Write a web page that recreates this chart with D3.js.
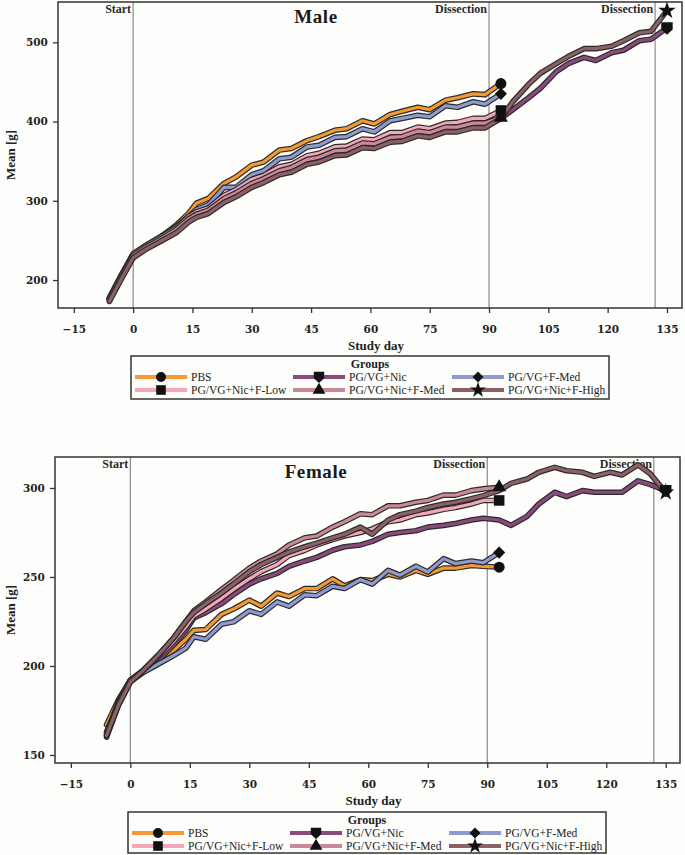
<!DOCTYPE html>
<html><head><meta charset="utf-8">
<script src="https://cdn.jsdelivr.net/npm/d3@7"></script>
<style>body{margin:0;background:#fdfdfb}svg{display:block}</style>
</head><body>
<svg id="c" width="685" height="855"></svg>
<script>
// ---------- data ----------
const groups = ["PBS","PG/VG+Nic","PG/VG+F-Med","PG/VG+Nic+F-Low","PG/VG+Nic+F-Med","PG/VG+Nic+F-High"];
const colors = ["#f59a32","#8a4a7c","#8f9bcf","#f4a7b9","#cb8898","#8b6067"];
const markers = ["circle","shield","diamond","square","triangle","star"];
const xTicks = [-15,0,15,30,45,60,75,90,105,120,135];
const refDays = [0,90,132];
const refLabels = ["Start","Dissection","Dissection"];
const days = [-6,-3,0,3,7,11,14,16,19,23,26,30,33,37,40,44,47,51,54,58,61,65,68,72,75,79,82,86,89,93];
const daysLate = [96,100,103,107,110,114,117,121,124,128,131,135];

// Male
const malePBS   = [177,205,228,242,254,270,284,297,303,322,330,345,349,364,366,376,381,389,391,401,397,409,413,418,415,427,430,435,434,448];
const maleNic   = [175,203,230,240,251,262,275,281,286,300,307,319,325,335,338,348,351,359,360,369,368,376,377,384,382,389,389,394,394,404];
const maleNicLate = [415,430,442,463,473,481,477,487,490,502,504,518];
const maleFMed  = [177,206,233,243,255,268,280,289,295,317,317,333,338,353,355,368,370,380,381,391,387,401,404,408,406,420,418,425,422,435];
const maleLow   = [178,206,233,243,254,266,280,286,291,307,314,327,332,343,346,357,360,368,369,378,377,386,386,393,391,398,399,404,404,414];
const maleNicMed= [176,204,231,241,252,264,277,283,288,303,310,322,328,338,342,352,355,363,364,373,372,380,381,388,386,393,393,398,398,405];
const maleHigh  = [173,201,228,238,249,260,273,279,284,298,305,317,323,333,336,346,349,357,358,367,366,374,375,382,380,387,387,392,392,404];
const maleHighLate = [425,447,461,473,482,492,492,495,502,512,514,540];

// Female
const femPBS    = [167,181,192,197,203,209,215,220,220.5,229,232,237,233.6,241,239,243.5,243.5,249,245,248.5,248,251.5,250,253.7,251.5,255,255,256.5,256,255.5];
const femNic    = [160,178,191,196,203,212,220,227,230,235,240,246,249,252,256,259,261,265,267,268,270,274,275,276,278,279,280,282,283,282];
const femNicLate= [279,284,291,297.6,295.2,298.5,297.6,297.6,297.6,304,302,298.5];
const femFMed   = [161,180,192,196,201,206,210,216.4,215,223.5,224.8,231,229,236,233.6,240,239.5,244.8,243.5,248.5,246,253.7,251,256,252.8,260.3,257.5,259,258,263.7];
const femLow    = [163,179,192,197,205,214,222,228,232,238,243,249,253,257,262,265,268,271,273,275,277,281,282,285,286,288,289,291,293,293];
const femNicMed = [162,179,192,197,206,216,225,231,236,243,248,255,259,263,268,272,273,278,281,285.5,285,290,290,292,293,296,296,298.5,299.5,300.4];
const femHigh   = [161,178,191,197,206,216,225,230,235,241,246,253,257,261,264,267,269,272,274,278,274,282,285,287,289,291,292,294,295.7,298.5];
const femHighLate = [302.6,305,308.8,311.6,309.7,308.8,306.5,308.8,307.3,313,308.2,297.6];

// ---------- drawing ----------
const svg = d3.select("#c");
svg.append("rect").attr("width",685).attr("height",855).attr("fill","#fdfdfb");

function pts(d1, v1, d2, v2){
  const a = d1.map((d,i)=>({x:d,y:v1[i]}));
  if (d2) d2.forEach((d,i)=>a.push({x:d,y:v2[i]}));
  return a;
}
function markerPath(type, s){
  if (type==="shield"){
    const k=s*0.52;
    return `M${-k},${-k}L${k},${-k}L${k},${k*0.25}L0,${k*1.15}L${-k},${k*0.25}Z`;
  }
  if (type==="diamond"){
    const k=s*0.55;
    return `M0,${-k}L${k},0L0,${k}L${-k},0Z`;
  }
  if (type==="square"){
    const k=s*0.48;
    return `M${-k},${-k}H${k}V${k}H${-k}Z`;
  }
  const map = {circle:[d3.symbolCircle,95],triangle:[d3.symbolTriangle,85],star:[d3.symbolStar,95]};
  const m = map[type];
  return d3.symbol().type(m[0]).size(m[1]*(s/11)*(s/11))();
}

const serif = "'Liberation Serif','DejaVu Serif',serif";

function panel(cfg){
  const x = d3.scaleLinear().domain(cfg.xDomain).range([cfg.left,cfg.right]);
  const y = d3.scaleLinear().domain(cfg.yDomain).range([cfg.bottom,cfg.top]);
  const g = svg.append("g");

  // reference lines
  refDays.forEach((d,i)=>{
    g.append("line").attr("x1",x(d)).attr("x2",x(d)).attr("y1",cfg.top).attr("y2",cfg.bottom)
      .attr("stroke","#8a8a8a").attr("stroke-width",1.2);
    g.append("text").attr("x",x(d)-2).attr("y",cfg.top+11).attr("text-anchor","end")
      .attr("font-family",serif).attr("font-weight","bold").attr("font-size",12)
      .attr("fill","#2a2a2a").text(refLabels[i]);
  });

  // title
  g.append("text").attr("x",cfg.titleX).attr("y",cfg.titleY).attr("text-anchor","middle")
    .attr("font-family",serif).attr("font-weight","bold").attr("font-size",19)
    .attr("letter-spacing",0.6).attr("fill","#1a1a1a").text(cfg.title);

  // series
  const line = d3.line().x(d=>x(d.x)).y(d=>y(d.y));
  cfg.series.forEach((s,i)=>{
    g.append("path").attr("d",line(s)).attr("fill","none").attr("stroke","#2b2b2b")
      .attr("stroke-width",5.6).attr("stroke-linejoin","round").attr("stroke-linecap","round");
    g.append("path").attr("d",line(s)).attr("fill","none").attr("stroke",colors[i])
      .attr("stroke-width",3.2).attr("stroke-linejoin","round").attr("stroke-linecap","round");
  });
  cfg.series.forEach((s,i)=>{
    const last = s[s.length-1];
    g.append("path").attr("d",markerPath(markers[i],11))
      .attr("transform",`translate(${x(last.x)},${y(last.y)})`).attr("fill","#111");
  });

  // frame
  g.append("rect").attr("x",cfg.left).attr("y",cfg.top).attr("width",cfg.right-cfg.left)
    .attr("height",cfg.bottom-cfg.top).attr("fill","none").attr("stroke","#333").attr("stroke-width",1.5);

  // axes
  const xa = g.append("g").attr("transform",`translate(0,${cfg.bottom})`)
    .call(d3.axisBottom(x).tickValues(xTicks).tickSize(5).tickSizeOuter(0));
  const ya = g.append("g").attr("transform",`translate(${cfg.left},0)`)
    .call(d3.axisLeft(y).tickValues(cfg.yTicks).tickSize(5).tickSizeOuter(0));
  [xa,ya].forEach(a=>{
    a.select(".domain").remove();
    a.selectAll("line").attr("stroke","#333").attr("stroke-width",1.3);
    a.selectAll("text").attr("font-family","'DejaVu Serif',serif").attr("font-weight","bold")
      .attr("font-size",10.5).attr("fill","#222");
  });
  xa.selectAll("text").attr("dy","1.6em");
  ya.selectAll("text").attr("dx","-0.2em");

  // axis titles
  g.append("text").attr("x",(cfg.left+cfg.right)/2+6).attr("y",cfg.xTitleY).attr("text-anchor","middle")
    .attr("font-family",serif).attr("font-weight","bold").attr("font-size",13).attr("fill","#222").text("Study day");
  g.append("text").attr("transform",`translate(15,${cfg.yTitleY}) rotate(-90)`).attr("text-anchor","middle")
    .attr("font-family",serif).attr("font-weight","bold").attr("font-size",13).attr("fill","#222").text("Mean [g]");

  // legend
  const L = cfg.legend;
  g.append("rect").attr("x",L.x0).attr("y",L.y0).attr("width",L.x1-L.x0).attr("height",L.y1-L.y0)
    .attr("fill","none").attr("stroke","#333").attr("stroke-width",1.5);
  g.append("text").attr("x",(L.x0+L.x1)/2).attr("y",L.y0+12).attr("text-anchor","middle")
    .attr("font-family",serif).attr("font-weight","bold").attr("font-size",12).attr("fill","#222").text("Groups");
  const cols = [L.x0+4, L.x0+162, L.x0+321];
  groups.forEach((name,i)=>{
    const cx = cols[i%3], cy = L.y0 + 25 + Math.floor(i/3)*13;
    g.append("line").attr("x1",cx).attr("x2",cx+52).attr("y1",cy-4).attr("y2",cy-4)
      .attr("stroke",colors[i]).attr("stroke-width",4);
    g.append("path").attr("d",markerPath(markers[i],10)).attr("transform",`translate(${cx+26},${cy-4})`).attr("fill","#111");
    g.append("text").attr("x",cx+56).attr("y",cy).attr("font-family",serif).attr("font-size",11.5)
      .attr("fill","#222").text(name);
  });
}

panel({
  title:"Male", titleX:316, titleY:23,
  left:58, right:682, top:2, bottom:308,
  xDomain:[-19,138.8], yDomain:[164.7,550.9], yTicks:[200,300,400,500],
  xTitleY:350, yTitleY:155,
  legend:{x0:131,x1:609,y0:356,y1:399},
  series:[pts(days,malePBS), pts(days,maleNic,daysLate,maleNicLate), pts(days,maleFMed),
          pts(days,maleLow), pts(days,maleNicMed), pts(days,maleHigh,daysLate,maleHighLate)]
});
panel({
  title:"Female", titleX:316, titleY:478,
  left:55, right:680, top:457, bottom:763,
  xDomain:[-19,138.6], yDomain:[145.5,317.4], yTicks:[150,200,250,300],
  xTitleY:805, yTitleY:610,
  legend:{x0:128,x1:606,y0:812,y1:853},
  series:[pts(days,femPBS), pts(days,femNic,daysLate,femNicLate), pts(days,femFMed),
          pts(days,femLow), pts(days,femNicMed), pts(days,femHigh,daysLate,femHighLate)]
});
</script>
</body></html>
